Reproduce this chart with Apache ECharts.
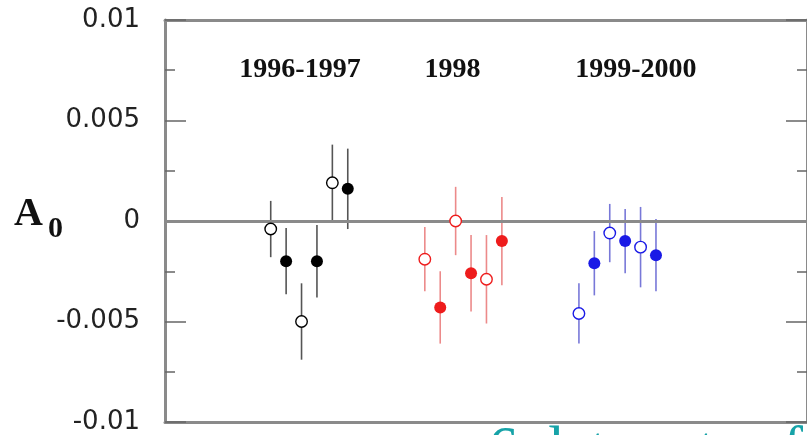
<!DOCTYPE html>
<html>
<head>
<meta charset="utf-8">
<script src="https://cdn.jsdelivr.net/npm/echarts@6/dist/echarts.min.js"></script>
<style>html,body{margin:0;padding:0;background:#fff;}#c{width:807px;height:435px;}</style>
</head>
<body>
<div id="c"></div>
<script>
// ---- data ----
const groupNames = ['1996-1997', '1998', '1999-2000'];
const groupLabelX = [1.9, 11.8, 23.7];
const groupLabelY = 0.0075;
const runX_9697 = [0, 1, 2, 3, 4, 5];
const runX_98   = [10, 11, 12, 13, 14, 15];
const runX_9900 = [20, 21, 22, 23, 24, 25];
const a0_9697 = [-0.0004, -0.0020, -0.0050, -0.0020, 0.0019, 0.0016];
const err_9697 = [0.0014, 0.00165, 0.0019, 0.0018, 0.0019, 0.0020];
const a0_98 = [-0.0019, -0.0043, 0.0000, -0.0026, -0.0029, -0.0010];
const err_98 = [0.0016, 0.0018, 0.0017, 0.0019, 0.0022, 0.0022];
const a0_9900 = [-0.0046, -0.0021, -0.0006, -0.0010, -0.0013, -0.0017];
const err_9900 = [0.0015, 0.0016, 0.00145, 0.0016, 0.0020, 0.0018];
const filledMarker = [false, true, false, true, false, true];
const yTickValues = [-0.01, -0.005, 0, 0.005, 0.01];
const yTickLabels = ['-0.01', '-0.005', '0', '0.005', '0.01'];

const groups = [
  { x: runX_9697, v: a0_9697, e: err_9697, color: '#000000', bar: '#555555' },
  { x: runX_98,   v: a0_98,   e: err_98,   color: '#ee1c1c', bar: '#ec8a8a' },
  { x: runX_9900, v: a0_9900, e: err_9900, color: '#1a1ae6', bar: '#7878d8' }
];

const series = [];
groups.forEach((g, gi) => {
  series.push({
    type: 'custom',
    z: 2,
    data: g.x.map((x, i) => [x, g.v[i] - g.e[i], g.v[i] + g.e[i]]),
    renderItem: function (params, api) {
      const p1 = api.coord([api.value(0), api.value(1)]);
      const p2 = api.coord([api.value(0), api.value(2)]);
      return { type: 'line', shape: { x1: p1[0], y1: p1[1], x2: p2[0], y2: p2[1] },
               style: { stroke: g.bar, lineWidth: 1.6 } };
    },
    markLine: gi === 0 ? {
      silent: true, symbol: 'none', label: { show: false },
      lineStyle: { color: '#8a8a8a', width: 3, type: 'solid', opacity: 1 },
      data: [{ yAxis: 0 }]
    } : undefined
  });
  series.push({
    type: 'scatter', z: 5, symbol: 'circle', symbolSize: 11.5,
    itemStyle: { color: '#ffffff', borderColor: g.color, borderWidth: 1.4, opacity: 1 },
    data: g.x.map((x, i) => [x, g.v[i]]).filter((d, i) => !filledMarker[i])
  });
  series.push({
    type: 'scatter', z: 5, symbol: 'circle', symbolSize: 12,
    itemStyle: { color: g.color, borderColor: g.color, borderWidth: 0, opacity: 1 },
    data: g.x.map((x, i) => [x, g.v[i]]).filter((d, i) => filledMarker[i])
  });
});
series.push({
  type: 'custom', z: 6,
  data: groupNames.map((n, i) => [groupLabelX[i], groupLabelY, n]),
  renderItem: function (params, api) {
    const p = api.coord([api.value(0), api.value(1)]);
    return { type: 'text', x: p[0], y: p[1],
             style: { text: groupNames[params.dataIndex], fill: '#111',
                      font: 'bold 28px "Liberation Serif", "Times New Roman", serif',
                      align: 'center', verticalAlign: 'middle' } };
  }
});

const frame = { show: true, onZero: false, lineStyle: { color: '#8a8a8a', width: 3 } };
const chart = echarts.init(document.getElementById('c'), null, { renderer: 'canvas' });
chart.setOption({
  animation: false,
  backgroundColor: '#ffffff',
  grid: { left: 165, right: -8, top: 20, bottom: 13, containLabel: false },
  xAxis: [
    { type: 'value', min: -6.86, max: 34.8, position: 'bottom', axisLine: frame,
      axisTick: { show: false }, axisLabel: { show: false }, splitLine: { show: false } },
    { type: 'value', min: -6.86, max: 34.8, position: 'top', axisLine: frame,
      axisTick: { show: false }, axisLabel: { show: false }, splitLine: { show: false } }
  ],
  yAxis: [
    { type: 'value', min: -0.01, max: 0.01, interval: 0.005, position: 'left',
      axisLine: frame,
      axisTick: { show: true, inside: true, length: 21, lineStyle: { color: '#666', width: 1.5 } },
      minorTick: { show: true, splitNumber: 2, length: 10, lineStyle: { color: '#666', width: 1.5 } },
      axisLabel: { show: true, margin: 25, color: '#222',
        fontFamily: '"DejaVu Sans", sans-serif', fontSize: 26,
        formatter: function (v) {
          for (let i = 0; i < yTickValues.length; i++) {
            if (Math.abs(v - yTickValues[i]) < 1e-9) return yTickLabels[i];
          }
          return '';
        } },
      splitLine: { show: false } },
    { type: 'value', min: -0.01, max: 0.01, interval: 0.005, position: 'right',
      axisLine: frame,
      axisTick: { show: true, inside: true, length: 21, lineStyle: { color: '#666', width: 1.5 } },
      minorTick: { show: true, splitNumber: 2, length: 10, lineStyle: { color: '#666', width: 1.5 } },
      axisLabel: { show: false }, splitLine: { show: false } }
  ],
  graphic: [
    { type: 'text', left: 14, top: 195, z: 10,
      style: { text: '{a|A}{s|0}', rich: {
        a: { font: 'bold 40px "Liberation Serif", serif', fill: '#111', padding: [0, 5, 0, 0] },
        s: { font: 'bold 30px "Liberation Serif", serif', fill: '#111', padding: [28, 0, 0, 0], verticalAlign: 'bottom' }
      } } },
    { type: 'text', left: 488, top: 421, z: 10,
      style: { text: '6 data sets of', fill: '#17a3a8',
               font: '60px "Liberation Serif", serif' } }
  ],
  series: series
});
</script>
</body>
</html>
